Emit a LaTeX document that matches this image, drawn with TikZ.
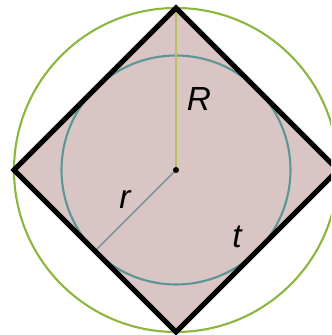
\documentclass[tikz,border=0pt]{standalone}
\usepackage{fontspec}
\setsansfont{Liberation Sans}
\usepackage{tikz}
\usetikzlibrary{positioning,calc}
\usepackage{xcolor}
\definecolor{sqfill}{RGB}{217,197,196}
\definecolor{outgreen}{RGB}{140,182,62}
\definecolor{inteal}{RGB}{92,150,148}
\definecolor{radR}{RGB}{184,190,98}
\definecolor{radr}{RGB}{128,148,158}

\begin{document}
\begin{tikzpicture}[
  square/.style={draw=black, line width=1.5pt, line join=miter},
  outer/.style={draw=outgreen, line width=0.6pt},
  inner/.style={draw=inteal, line width=0.6pt},
  lbl/.style={font=\sffamily\itshape\fontsize{9.5}{11}\selectfont, inner sep=0pt}
]
\useasboundingbox (0,0) rectangle (3.31,3.35);
\clip (0,0) rectangle (3.31,3.35);

\coordinate (O) at (1.76,1.65);
\coordinate (top) at (1.76,3.27);
\coordinate (right) at (3.38,1.65);
\coordinate (bottom) at (1.76,0.03);
\coordinate (left) at (0.14,1.65);
\coordinate (tang) at ($(O)+(225:1.145)$);

% fill first, outline last
\fill[sqfill] (top) -- (right) -- (bottom) -- (left) -- cycle;
\draw[outer] (O) circle (1.62);
\draw[inner] (O) circle (1.145);

\draw[radR, line width=0.8pt] (O) -- (top);
\draw[radr, line width=0.5pt] (O) -- (tang);
\fill (O) circle (0.03);

\draw[square] (top) -- (right) -- (bottom) -- (left) -- cycle;

\node[lbl] (R) at (1.99,2.36) {R};
\node[lbl] (r) at (1.25,1.35) {r};
\node[lbl] (t) at (2.37,0.98) {t};
\end{tikzpicture}
\end{document}
